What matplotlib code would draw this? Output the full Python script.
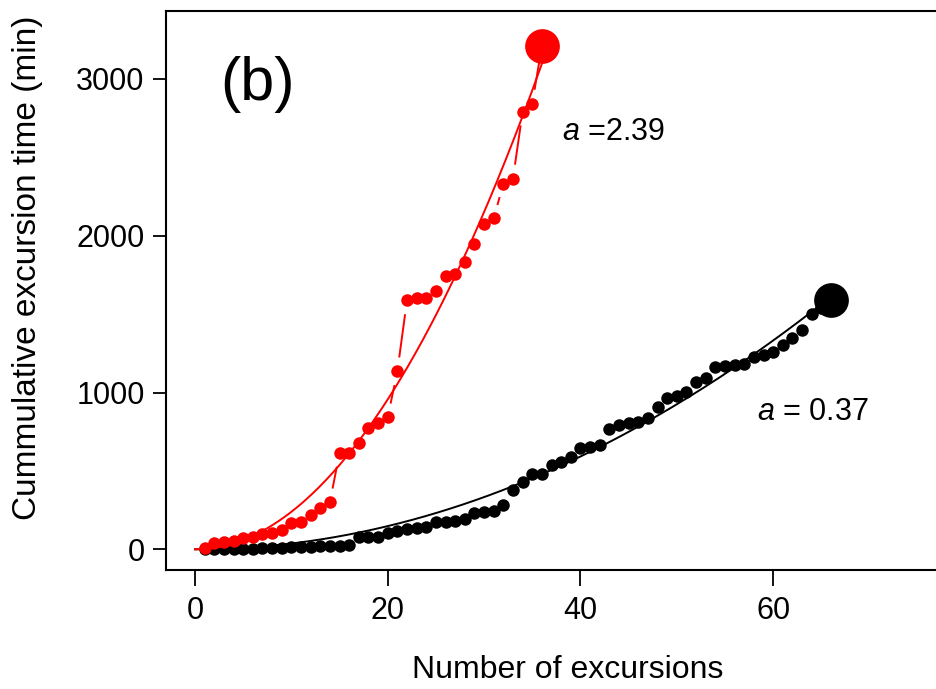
import numpy as np
import matplotlib
matplotlib.use("Agg")
import matplotlib.pyplot as plt

plt.rcParams['font.family'] = ['Liberation Sans', 'DejaVu Sans']
plt.rcParams['mathtext.fontset'] = 'custom'
plt.rcParams['mathtext.it'] = 'Liberation Sans:italic'
plt.rcParams['mathtext.rm'] = 'Liberation Sans'

# cumulative excursion time (min), one value per excursion
red_n = np.arange(1, 37)
red_t = [10, 38, 45, 53, 74, 80, 96, 106, 123, 166, 172, 219, 261, 300,
         615, 615, 678, 773, 805, 842, 1135, 1588, 1600, 1606, 1650, 1746,
         1753, 1830, 1945, 2072, 2110, 2333, 2365, 2792, 2843, 3212]

black_n = np.arange(1, 67)
black_t = [0, 0, 2, 3, 4, 5, 6, 8, 10, 12, 14, 16, 18, 20, 22, 25,
           80, 80, 77, 106, 119, 129, 134, 144, 176, 176, 182, 191, 233, 240,
           244, 282, 378, 431, 480, 480, 537, 558, 590, 644, 654, 665, 765, 792,
           803, 813, 835, 905, 962, 977, 1004, 1068, 1090, 1164, 1168, 1175,
           1185, 1224, 1238, 1260, 1302, 1345, 1402, 1498, 1540, 1590]

# fitted coefficient for t = a * n^2
red_a = 2.39
black_a = 0.37

fig = plt.figure(figsize=(9.36, 6.89), dpi=100)
ax = fig.add_axes([0.1774, 0.1727, 0.834, 0.811])
ax.set_xlim(-3, 78)
ax.set_ylim(-132, 3432)


def gapped_lines(x, y, color, gap=14):
    # R style type="b": segments that stop short of each point
    pts = ax.transData.transform(np.column_stack([x, y]))
    inv = ax.transData.inverted()
    for p0, p1 in zip(pts[:-1], pts[1:]):
        d = p1 - p0
        L = np.hypot(d[0], d[1])
        if L <= 2 * gap:
            continue
        u = d / L
        seg = inv.transform([p0 + u * gap, p1 - u * gap])
        ax.plot(seg[:, 0], seg[:, 1], color=color, lw=1.4,
                solid_capstyle='butt')


for n, t, a, c in [(black_n, black_t, black_a, 'black'),
                   (red_n, red_t, red_a, 'red')]:
    ax.plot(n, t, 'o', color=c, ms=9, mew=0)
    gapped_lines(n, t, c)
    xx = np.linspace(0, n[-1], 200)
    ax.plot(xx, a * xx ** 2, color=c, lw=1.4)
    ax.plot(n[-1], t[-1], 'o', color=c, ms=25, mew=0)

ax.text(6.5, 2966, '(b)', fontsize=44, ha='center', va='center')
ax.text(38.1, 2660, r'$a$ =2.39', fontsize=22, va='center')
ax.text(58.3, 875, r'$a$ = 0.37', fontsize=22, va='center')

ax.set_xticks([0, 20, 40, 60])
ax.set_yticks([0, 1000, 2000, 3000])
ax.tick_params(axis='x', length=11.5, width=1.3, labelsize=22, pad=7)
ax.tick_params(axis='y', length=9.4, width=1.3, labelsize=22, pad=6)
for s in ax.spines.values():
    s.set_linewidth(1.5)

ax.set_xlabel('Number of excursions', fontsize=23)
ax.set_ylabel('Cummulative excursion time (min)', fontsize=24)
ax.xaxis.set_label_coords(0.514, -0.152)
ax.yaxis.set_label_coords(-0.157, 0.541)

fig.savefig('out.png', dpi=100)
